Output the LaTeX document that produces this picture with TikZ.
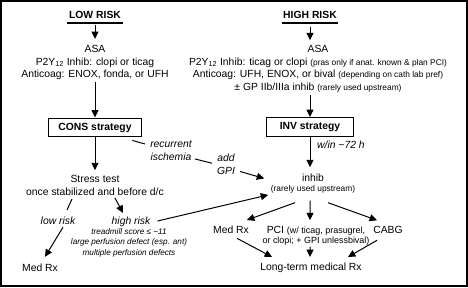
\documentclass[tikz,border=0pt]{standalone}
\usepackage{fontspec}
\setmainfont{Liberation Sans}
\usetikzlibrary{arrows.meta}
\newcommand{\mysmall}{\fontsize{8.4}{10}\selectfont}
\newcommand{\mypci}{\fontsize{9}{10}\selectfont}
\begin{document}
\begin{tikzpicture}[x=1bp,y=-1bp,
  txt/.style={font=\fontsize{10.4}{12.7}\selectfont, inner sep=0, align=center},
  ital/.style={font=\fontsize{10.4}{13}\selectfont\itshape, inner sep=0, align=center},
  smit/.style={font=\fontsize{8.2}{10.5}\selectfont\itshape, inner sep=0, align=center},
  head/.style={font=\fontsize{10.4}{12}\selectfont\bfseries, inner sep=0},
  box/.style={draw, line width=1, minimum height=19, font=\fontsize{10.4}{12}\selectfont\bfseries, inner sep=0},
  arr/.style={line width=1, -{Triangle[length=7.5,width=7]}},
  ln/.style={line width=1},
  uline/.style={line width=2.2},
]
\useasboundingbox (0,0) rectangle (468,287);
\draw[line width=1.5] (1,1) rectangle (467,286);

% headings
\node[head, anchor=base] (lowrisk) at (95,18.7) {LOW RISK};
\node[head, anchor=base] (highrisk) at (310,18.7) {HIGH RISK};
\draw[uline] ([xshift=-1.5,yshift=-3.8]lowrisk.south west) -- ([xshift=1.5,yshift=-3.8]lowrisk.south east);
\draw[uline] ([xshift=-1.5,yshift=-3.8]highrisk.south west) -- ([xshift=1.5,yshift=-3.8]highrisk.south east);

% drug blocks
\node[txt, anchor=north] (lowtxt) at (95,45.2) {ASA\\P2Y\textsubscript{12} Inhib: clopi or ticag\\Anticoag: ENOX, fonda, or UFH};
\node[txt, anchor=north] (hightxt) at (318,45.2) {ASA\\P2Y\textsubscript{12} Inhib: ticag or clopi {\mysmall(pras only if anat. known \& plan PCI)}\\Anticoag: UFH, ENOX, or bival {\mysmall(depending on cath lab pref)}\\± GP IIb/IIIa inhib {\mysmall(rarely used upstream)}};

% strategies
\node[box, minimum width=94] (cons) at (95,127.5) {CONS strategy};
\node[box, minimum width=88] (inv) at (310,127) {INV strategy};

% left lower part
\node[txt, anchor=north, font=\fontsize{10.4}{13}\selectfont] (stress) at (95,175.2) {Stress test\\once stabilized and before d/c};
\node[ital, anchor=base] (lowlbl) at (58,224.7) {low risk};
\node[ital, anchor=base] (highlbl) at (131,224.7) {high risk};
\node[smit, anchor=north] (highdet) at (129,228) {treadmill score ≤ −11\\large perfusion defect (esp. ant)\\multiple perfusion defects};
\node[txt, anchor=base] (medL) at (40,271.7) {Med Rx};

% middle labels
\node[ital, anchor=north] (recur) at (171,140.5) {recurrent\\ischemia};
\node[ital, anchor=north] (addgpi) at (226,154.2) {add\\GPI};
\node[ital, anchor=base west] (win) at (317,148.7) {w/in \textasciitilde72 h};

% right lower part
\node[txt, anchor=north] (inhib) at (313,174.2) {inhib\\[-2.8pt]{\mysmall (rarely used upstream)}};
\node[txt, anchor=base] (medR) at (231,233.7) {Med Rx};
\node[txt, anchor=north] (pci) at (316,226.2) {PCI {\mypci(w/ ticag, prasugrel,}\\[-2.8pt]{\mypci or clopi; + GPI unlessbival)}};
\node[txt, anchor=base] (cabg) at (388,233.7) {CABG};
\node[txt, anchor=base] (longrx) at (311,270.7) {Long-term medical Rx};

% connectors left
\draw[arr, shorten <=6.3, shorten >=6.2] (lowrisk.south) -- (lowtxt.north);
\draw[arr, shorten <=1.5] (lowtxt.south) -- (cons.north);
\draw[arr, shorten >=5] (cons.south) -- (stress.north);
\draw[ln] ([xshift=-23,yshift=-3]stress.south) -- ([xshift=9,yshift=7]lowlbl.north);
\draw[arr] ([xshift=20,yshift=-2]stress.south) -- ([xshift=-8,yshift=4]highlbl.north);
\draw[arr] ([xshift=5,yshift=-2.3]lowlbl.south) -- ([xshift=5,yshift=7.2]medL.north);

% connectors right
\draw[arr, shorten <=8, shorten >=5] (highrisk.south) -- (highrisk.south |- hightxt.north);
\draw[arr, shorten <=2.5] (hightxt.south -| inv.north) -- (inv.north);
\draw[arr, shorten >=7] (inv.south) -- (inv.south |- inhib.north);

% recurrent ischemia
\draw[ln] ([xshift=-10,yshift=-3]cons.south east) -- ([xshift=-5,yshift=-3.5]recur.north west);
\draw[ln] ([xshift=3,yshift=1.7]recur.south east) -- ([xshift=-5,yshift=1.5]addgpi.west);
\draw[arr] ([xshift=5,yshift=3.7]addgpi.south east) -- ([xshift=-6.5,yshift=5.5]inhib.west);

% high risk to inhib
\draw[arr] ([xshift=7,yshift=1]highlbl.east) -- ([xshift=-2.5,yshift=-1.2]inhib.south west);

% outcomes
\draw[arr] ([xshift=-18,yshift=-9]inhib.south) -- ([xshift=16,yshift=6]medR.north);
\draw[arr] ([xshift=-3,yshift=-7]inhib.south) -- ([xshift=-6,yshift=6]pci.north);
\draw[arr] ([xshift=15,yshift=-9]inhib.south) -- ([xshift=-11,yshift=6]cabg.north);
\draw[arr] ([xshift=6,yshift=-4.3]medR.south) -- ([xshift=12,yshift=6]longrx.north west);
\draw[arr] ([xshift=-6,yshift=-1]pci.south) -- ([xshift=-1,yshift=6]longrx.north);
\draw[arr] ([xshift=-11,yshift=-6.3]cabg.south) -- ([xshift=-14,yshift=6]longrx.north east);
\end{tikzpicture}
\end{document}
